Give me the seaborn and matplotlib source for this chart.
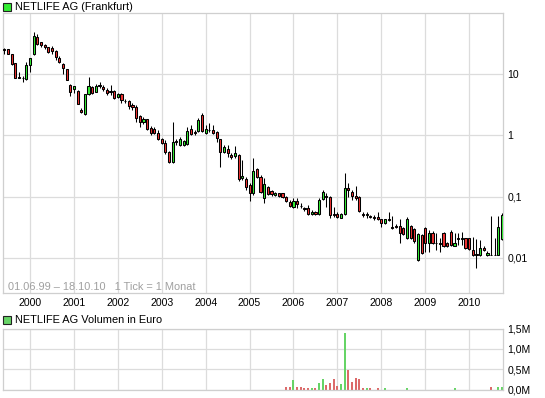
import numpy as np
import pandas as pd
import matplotlib
matplotlib.use("Agg")
import matplotlib.pyplot as plt
from matplotlib.patches import Rectangle
from matplotlib.ticker import FixedLocator, NullLocator
import seaborn as sns

# ---------------- data (monthly candles 06/1999 - 10/2010) ----------------
months = pd.period_range("1999-06", "2010-10", freq="M")

opens = [26, 25.6, 20.9, 15.0, 8.9, 8.7, 8.2, 14.0, 20.9, 40.6,
         32.9, 29.7, 27.3, 26.2, 24.0, 18.4, 14.7, 11.9, 6.6, 5.6,
         5.28, 2.59, 2.20, 4.67, 6.2, 5.1, 6.6, 6.18, 5.48, 5.34,
         5.34, 4.26, 4.72, 3.67, 3.63, 3.12, 2.86, 2.06, 1.63, 1.82,
         1.30, 1.25, 1.10, 0.860, 0.757, 0.540, 0.371, 0.798, 0.695, 0.695,
         0.721, 1.25, 1.13, 1.19, 2.17, 1.10, 1.21, 1.22, 1.12, 0.860,
         0.540, 0.591, 0.477, 0.460, 0.477, 0.199, 0.1915, 0.1546, 0.1132, 0.279,
         0.2064, 0.0938, 0.142, 0.1234, 0.1062, 0.1132, 0.1132, 0.0996, 0.0825, 0.0684,
         0.0848, 0.0716, 0.0659, 0.0645, 0.0514, 0.0567, 0.0514, 0.0904, 0.1011, 0.0974,
         0.0520, 0.0514, 0.0453, 0.0514, 0.1366, 0.120, 0.1034, 0.0974, 0.0520, 0.0508,
         0.0488, 0.0465, 0.0460, 0.0426, 0.0375, 0.0431, 0.0323, 0.0327, 0.0332, 0.0304,
         0.0209, 0.0332, 0.0296, 0.00924, 0.0236, 0.0304, 0.0175, 0.0258, 0.0177, 0.0170,
         0.0252, 0.0177, 0.0265, 0.0159, 0.0210, 0.0206, 0.0209, 0.0209, 0.0135, 0.0116,
         0.0112, 0.0145, 0.0112, 0.0112, 0.0112, 0.0112, 0.0201]

highs = [26.5, 26, 21, 15.2, 10.9, 9.4, 15.9, 18.3, 47.9, 44.5,
         33.5, 31.2, 28, 29, 24.5, 19.9, 15.2, 12.2, 6.8, 6.5,
         5.4, 2.79, 4.8, 8.8, 6.4, 6.8, 7.3, 6.62, 5.85, 6.62,
         5.59, 4.95, 4.95, 3.87, 3.77, 3.33, 3.12, 2.14, 1.97, 1.88,
         1.42, 1.35, 1.22, 0.894, 0.838, 0.554, 1.63, 0.860, 0.949, 0.838,
         1.38, 1.47, 1.22, 1.92, 2.29, 1.47, 1.57, 1.47, 1.175, 0.887,
         0.695, 0.695, 0.509, 0.669, 0.495, 0.395, 0.211, 0.1686, 0.421, 0.2895,
         0.225, 0.199, 0.149, 0.128, 0.1189, 0.1167, 0.1167, 0.1023, 0.0897, 0.0938,
         0.0938, 0.0777, 0.0684, 0.0729, 0.0604, 0.0593, 0.0938, 0.128, 0.1132, 0.1023,
         0.0684, 0.0567, 0.0546, 0.2444, 0.1648, 0.128, 0.1506, 0.1023, 0.0567, 0.0561,
         0.0510, 0.0501, 0.0561, 0.0439, 0.0439, 0.0567, 0.0483, 0.0357, 0.0431, 0.0319,
         0.0470, 0.0344, 0.0307, 0.0255, 0.0245, 0.0319, 0.0285, 0.0270, 0.0255, 0.0211,
         0.0265, 0.0185, 0.0285, 0.0255, 0.0255, 0.0265, 0.0215, 0.0215, 0.0219, 0.0200,
         0.0196, 0.0156, 0.0130, 0.0483, 0.0211, 0.0483, 0.0550]

lows = [21, 21, 14, 8.6, 8.6, 7.3, 8.0, 10.9, 20.5, 30,
        27.5, 25.6, 22, 20.9, 17.1, 15.0, 9.9, 7.9, 4.43, 4.84,
        3.2, 2.3, 2.15, 4.6, 4.7, 5.0, 5.85, 5.34, 4.49, 4.54,
        3.91, 4.02, 3.33, 3.40, 2.66, 2.59, 1.67, 1.38, 1.53, 1.22,
        1.01, 1.05, 0.838, 0.721, 0.495, 0.349, 0.360, 0.695, 0.669, 0.669,
        0.695, 1.01, 1.01, 1.15, 1.15, 1.05, 1.14, 1.05, 0.786, 0.301,
        0.520, 0.448, 0.406, 0.421, 0.183, 0.187, 0.128, 0.0857, 0.1082, 0.205,
        0.1167, 0.0795, 0.1062, 0.1042, 0.1023, 0.1004, 0.0967, 0.0825, 0.0690, 0.0664,
        0.0645, 0.0645, 0.0593, 0.0501, 0.0501, 0.0501, 0.0501, 0.0880, 0.0684, 0.0453,
        0.0460, 0.0456, 0.0443, 0.0501, 0.0996, 0.0880, 0.0880, 0.0561, 0.0470, 0.0443,
        0.0448, 0.0415, 0.0423, 0.0323, 0.0364, 0.0400, 0.0296, 0.0304, 0.0173, 0.0236,
        0.0203, 0.0203, 0.0175, 0.00907, 0.0118, 0.0126, 0.0126, 0.0169, 0.0135, 0.0126,
        0.0151, 0.0151, 0.0156, 0.0156, 0.0162, 0.0162, 0.0142, 0.0137, 0.0109, 0.00697,
        0.0109, 0.0132, 0.0109, 0.0112, 0.0112, 0.0111, 0.0196]

closes = [25, 21.4, 14.4, 8.7, 8.7, 8.6, 14.0, 18.0, 41.7, 30.5,
          29.7, 27.5, 22.6, 23.7, 18.7, 15.9, 12.4, 8.0, 5.0, 6.4,
          3.28, 2.37, 4.67, 6.4, 4.84, 6.5, 6.5, 5.63, 4.95, 5.09,
          4.06, 4.72, 3.77, 3.59, 3.01, 2.86, 1.89, 1.67, 1.82, 1.25,
          1.08, 1.08, 0.870, 0.740, 0.540, 0.371, 0.769, 0.777, 0.860, 0.807,
          1.175, 1.05, 1.11, 1.78, 1.19, 1.27, 1.23, 1.08, 0.894, 0.540,
          0.637, 0.509, 0.438, 0.509, 0.1915, 0.217, 0.142, 0.1132, 0.2616, 0.211,
          0.120, 0.1605, 0.1103, 0.109, 0.1132, 0.1034, 0.0996, 0.0857, 0.0710, 0.0848,
          0.0749, 0.0703, 0.0621, 0.0514, 0.0554, 0.0514, 0.0880, 0.120, 0.0985, 0.0501,
          0.0508, 0.0470, 0.0514, 0.1366, 0.1267, 0.1034, 0.0960, 0.0582, 0.0508, 0.0520,
          0.0460, 0.0455, 0.0436, 0.0375, 0.0426, 0.0421, 0.0304, 0.0319, 0.0252, 0.0245,
          0.0426, 0.0209, 0.0189, 0.0243, 0.0122, 0.0173, 0.0260, 0.0173, 0.0173, 0.0174,
          0.0155, 0.0155, 0.0160, 0.0175, 0.0205, 0.0211, 0.0145, 0.0140, 0.0112, 0.0113,
          0.0143, 0.0135, 0.0122, 0.0112, 0.0112, 0.0323, 0.0501]

volume = [0] * 77 + [58000, 58000, 233000, 58000, 58000, 33000, 33000, 33000, 33000, 158000,
                     258000, 108000, 158000, 258000, 83000, 133000, 1400000, 483000, 183000, 283000,
                     258000, 33000, 33000, 33000, 0, 33000, 0, 33000, 0, 0,
                     0, 0, 0, 33000, 0, 0, 0, 0, 0, 0,
                     0, 0, 0, 0, 0, 0, 33000, 0, 0, 0,
                     0, 0, 0, 0, 0, 0, 58000, 0, 58000, 58000]

price_ticks = [0.01, 0.1, 1, 10]
price_labels = ["0,01", "0,1", "1", "10"]
vol_ticks = [0, 500000, 1000000, 1500000]
vol_labels = ["0,0M", "0,5M", "1,0M", "1,5M"]

# ---------------- style ----------------
sns.set_theme(style="white")
plt.rcParams["font.family"] = ["Liberation Sans", "DejaVu Sans"]

GREEN = "#33ee33"
RED = "#f03232"
VGREEN = "#66d466"
VRED = "#dc6a6a"
GRID = "#dcdcdc"
FS = 7.6

W, H = 545, 398
fig = plt.figure(figsize=(W / 100, H / 100), dpi=100)
fig.patch.set_facecolor("white")

ax = fig.add_axes([3 / W, 1 - 293 / H, 500 / W, 280 / H])
axv = fig.add_axes([3 / W, 1 - 389.5 / H, 500 / W, 61 / H])

df = pd.DataFrame({"x": np.arange(len(months)), "open": opens, "high": highs,
                   "low": lows, "close": closes, "volume": volume})
df["up"] = np.where(df["close"] > df["open"], "up", "down")

year_pos = [i for i, m in enumerate(months) if m.month == 1]
year_lab = [str(months[i].year) for i in year_pos]

# ---------------- main candlestick panel ----------------
ax.set_yscale("log")
ax.vlines(df["x"], df["low"], df["high"], color="black", lw=0.75, zorder=3)
body_bottom = np.minimum(df["open"], df["close"])
body_h = np.abs(df["close"] - df["open"])
ax.bar(df["x"], body_h, bottom=body_bottom, width=0.58,
       color=[GREEN if u == "up" else RED for u in df["up"]],
       edgecolor="black", linewidth=0.75, zorder=4)

ax.set_ylim(0.00268, 99)
ax.set_xlim(-0.38, 136.25)
ax.yaxis.set_major_locator(FixedLocator(price_ticks))
ax.yaxis.set_minor_locator(NullLocator())
ax.set_yticklabels(price_labels)
ax.xaxis.set_major_locator(FixedLocator(year_pos))
ax.set_xticklabels(year_lab)
ax.yaxis.tick_right()
ax.tick_params(axis="both", length=0, labelsize=FS, colors="black")
ax.tick_params(axis="y", pad=3)
ax.tick_params(axis="x", pad=3.5)
ax.grid(True, color=GRID, lw=0.9)
ax.set_axisbelow(True)
for s in ax.spines.values():
    s.set_color("#cfcfcf")
    s.set_linewidth(0.9)
ax.set_xlabel("")
ax.set_ylabel("")

# ---------------- volume panel ----------------
sns.barplot(data=df, x="x", y="volume", hue="up", palette={"up": VGREEN, "down": VRED},
            native_scale=True, width=0.55, dodge=False, legend=False, errorbar=None,
            saturation=1, linewidth=0, ax=axv)
axv.set_xlim(-0.38, 136.25)
axv.set_ylim(0, 1500000)
axv.yaxis.set_major_locator(FixedLocator(vol_ticks))
axv.set_yticklabels(vol_labels)
axv.xaxis.set_major_locator(FixedLocator(year_pos))
axv.set_xticklabels([])
axv.yaxis.tick_right()
axv.tick_params(axis="both", length=0, labelsize=FS, colors="black")
axv.tick_params(axis="y", pad=3)
axv.grid(True, color=GRID, lw=0.9)
axv.set_axisbelow(True)
for s in axv.spines.values():
    s.set_color("#cfcfcf")
    s.set_linewidth(0.9)
axv.set_xlabel("")
axv.set_ylabel("")

# ---------------- titles & annotations ----------------
fig.add_artist(Rectangle((3 / W, 1 - 11 / H), 8 / W, 8 / H, transform=fig.transFigure,
                         facecolor=GREEN, edgecolor="#222222", lw=0.8))
fig.text(15 / W, 1 - 7.5 / H, "NETLIFE AG (Frankfurt)", fontsize=FS + 0.3,
         va="center", ha="left", color="black")
fig.add_artist(Rectangle((3 / W, 1 - 324 / H), 8 / W, 8 / H, transform=fig.transFigure,
                         facecolor=VGREEN, edgecolor="#222222", lw=0.8))
fig.text(15 / W, 1 - 320 / H, "NETLIFE AG Volumen in Euro", fontsize=FS + 0.3,
         va="center", ha="left", color="black")
fig.text(8 / W, 1 - 287 / H, "01.06.99 \u2013 18.10.10   1 Tick = 1 Monat", fontsize=FS + 0.3,
         va="center", ha="left", color="#a0a0a0")

fig.savefig("out.png", dpi=100, facecolor="white")
